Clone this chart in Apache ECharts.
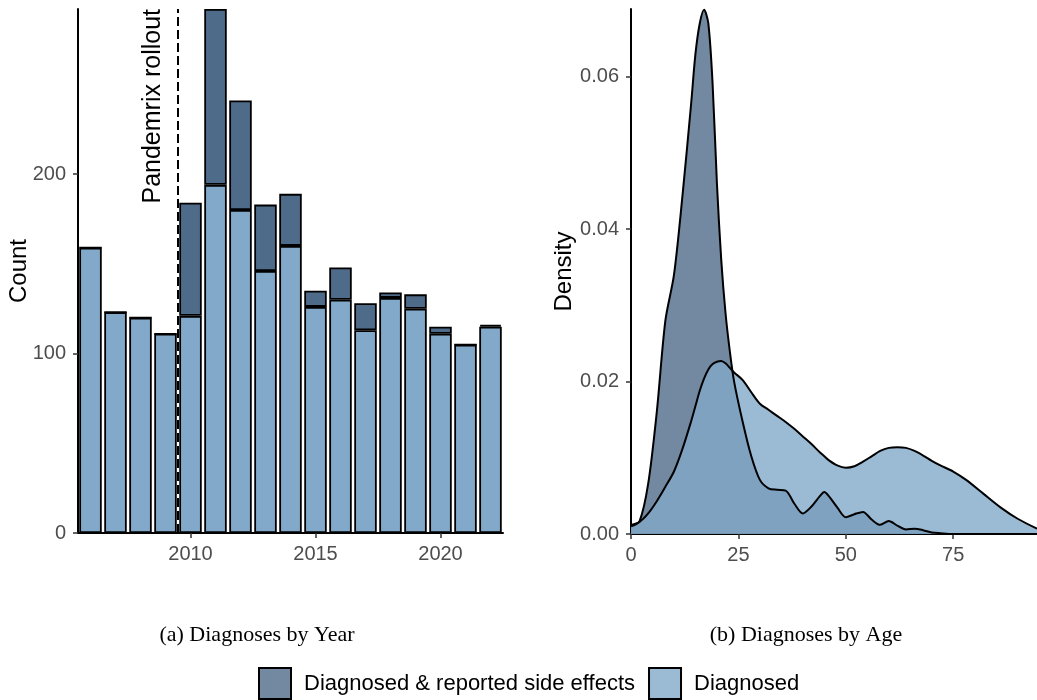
<!DOCTYPE html>
<html>
<head>
<meta charset="utf-8">
<script src="https://cdn.jsdelivr.net/npm/echarts@6/dist/echarts.min.js"></script>
<style>
  html, body { margin: 0; padding: 0; background: #fff; }
  #chart { width: 1037px; height: 700px; }
</style>
</head>
<body>
<div id="chart"></div>
<script>
// yearly counts (a)
const years = ['2006', '2007', '2008', '2009', '2010', '2011', '2012', '2013', '2014', '2015', '2016', '2017', '2018', '2019', '2020', '2021', '2022']
const diagnosedCounts = [159, 123, 120, 111, 121, 194, 180, 146, 160, 126, 130, 113, 131, 125, 111, 105, 115]
const sideEffectCounts = [0, 0, 0, 0, 63, 98, 61, 37, 29, 9, 18, 15, 3, 8, 4, 0, 1]
const rolloutYear = 2009.5

// age densities (b)
const ages = [0, 2, 4, 6, 8, 10, 12, 14, 15, 16, 17, 18, 19, 20, 21, 22, 23, 24, 26, 28, 30, 32, 34, 36, 38, 40,
  42, 44, 45, 46, 48, 50, 52, 54, 56, 58, 60, 62, 64, 66, 68, 70, 72, 75, 78, 82, 86, 90, 94.5]
const sideEffectDensity = [0.0010, 0.0017, 0.0066, 0.0160, 0.0280, 0.0340, 0.0445, 0.0565, 0.0630, 0.0670, 0.0688,
  0.0670, 0.0590, 0.0460, 0.0360, 0.0290, 0.0240, 0.0200, 0.0147, 0.0102, 0.0071, 0.0060, 0.0058, 0.0057, 0.0040,
  0.0027, 0.0036, 0.0050, 0.0055, 0.0050, 0.0035, 0.0022, 0.0026, 0.0029, 0.0019, 0.0012, 0.0017, 0.0011, 0.0006,
  0.0007, 0.0005, 0.0002, 0.0001, 0, 0, 0, 0, 0, 0]
const diagnosedDensity = [0.0012, 0.0016, 0.0027, 0.0043, 0.0062, 0.0082, 0.0112, 0.0148, 0.0168, 0.0188, 0.0204,
  0.0216, 0.0223, 0.0226, 0.0227, 0.0224, 0.0218, 0.0212, 0.0202, 0.0186, 0.0171, 0.0163, 0.0155, 0.0147, 0.0138,
  0.0128, 0.0118, 0.0107, 0.0102, 0.0097, 0.0090, 0.0087, 0.0089, 0.0095, 0.0102, 0.0109, 0.0113, 0.0114, 0.0113,
  0.0109, 0.0103, 0.0096, 0.0090, 0.0082, 0.0071, 0.0053, 0.0035, 0.0020, 0.0007]

const yearTicks = ['2010', '2015', '2020']
const countTicks = [0, 100, 200]
const ageTicks = [0, 25, 50, 75]
const densityTicks = [0, 0.02, 0.04, 0.06]

const SIDE = 'Diagnosed & reported side effects'
const DIAG = 'Diagnosed'
const darkBlue = '#4f6b8a'
const lightBlue = '#82a9c9'
const sans = 'Liberation Sans, Arial, sans-serif'
const serif = 'Liberation Serif, Times New Roman, serif'

const pairs = (xs, ys) => xs.map((x, i) => [x, ys[i]])

const axisCommon = {
  axisLine: { show: true, lineStyle: { color: '#000', width: 2 } },
  axisTick: { show: true, length: 5, lineStyle: { color: '#333', width: 1.5 } },
  axisLabel: { color: '#4d4d4d', fontSize: 20, fontFamily: sans, margin: 11 },
  splitLine: { show: false }
}
const nameStyle = { fontSize: 24, fontFamily: sans, color: '#000' }
const showYear = (i, v) => yearTicks.includes(v)

const chart = echarts.init(document.getElementById('chart'))
chart.setOption({
  animation: false,
  backgroundColor: '#fff',
  title: [
    { text: '(a) Diagnoses by Year', left: 252, top: 619, textAlign: 'center',
      textStyle: { fontFamily: serif, fontSize: 22, fontWeight: 'normal', color: '#000' } },
    { text: '(b) Diagnoses by Age', left: 801, top: 619, textAlign: 'center',
      textStyle: { fontFamily: serif, fontSize: 22, fontWeight: 'normal', color: '#000' } }
  ],
  legend: {
    left: 258, top: 667, padding: 0,
    itemWidth: 32, itemHeight: 31, itemGap: 13,
    icon: 'rect',
    selectedMode: false,
    textStyle: { fontSize: 22, fontFamily: sans, color: '#000', padding: [0, 0, 0, 8] },
    data: [
      { name: SIDE, itemStyle: { color: 'rgba(79,107,138,0.8)', borderColor: '#000', borderWidth: 2 } },
      { name: DIAG, itemStyle: { color: 'rgba(130,169,201,0.8)', borderColor: '#000', borderWidth: 2 } }
    ]
  },
  grid: [
    { left: 78, top: 9, width: 425, height: 524 },
    { left: 631, top: 9, width: 406, height: 525 }
  ],
  xAxis: [
    { ...axisCommon, type: 'category', gridIndex: 0, data: years,
      axisTick: { ...axisCommon.axisTick, alignWithLabel: true, interval: showYear },
      axisLabel: { ...axisCommon.axisLabel, interval: showYear } },
    { ...axisCommon, type: 'value', gridIndex: 1, min: 0, max: 94.5,
      axisTick: { ...axisCommon.axisTick, customValues: ageTicks },
      axisLabel: { ...axisCommon.axisLabel, customValues: ageTicks } },
    // hidden continuous year axis, only used to place the rollout line between bands
    { type: 'value', gridIndex: 0, min: 2005.5, max: 2022.5, show: false }
  ],
  yAxis: [
    { ...axisCommon, type: 'value', gridIndex: 0, min: 0, max: 292,
      name: 'Count', nameLocation: 'middle', nameGap: 47, nameMoveOverlap: false, nameTextStyle: nameStyle,
      axisTick: { ...axisCommon.axisTick, customValues: countTicks },
      axisLabel: { ...axisCommon.axisLabel, margin: 12, customValues: countTicks } },
    { ...axisCommon, type: 'value', gridIndex: 1, min: 0, max: 0.0689,
      name: 'Density', nameLocation: 'middle', nameGap: 55, nameMoveOverlap: false, nameTextStyle: nameStyle,
      axisTick: { ...axisCommon.axisTick, customValues: densityTicks },
      axisLabel: { ...axisCommon.axisLabel, margin: 12, customValues: densityTicks, formatter: v => v.toFixed(2) } }
  ],
  series: [
    {
      type: 'line', xAxisIndex: 2, yAxisIndex: 0, data: [], z: 1,
      markLine: {
        silent: true, symbol: 'none',
        lineStyle: { color: '#000', type: [9, 4], width: 2 },
        label: { show: true, formatter: 'Pandemrix rollout', position: 'insideEndTop',
          fontSize: 25, fontFamily: sans, color: '#000', distance: [0, 12] },
        data: [{ xAxis: rolloutYear }]
      }
    },
    {
      name: DIAG, type: 'bar', xAxisIndex: 0, yAxisIndex: 0, stack: 'year',
      barWidth: '90%',
      data: diagnosedCounts,
      itemStyle: { color: lightBlue, borderColor: '#000', borderWidth: 1.8 }
    },
    {
      name: SIDE, type: 'bar', xAxisIndex: 0, yAxisIndex: 0, stack: 'year',
      barWidth: '90%',
      data: sideEffectCounts,
      itemStyle: { color: darkBlue, borderColor: '#000', borderWidth: 1.8 }
    },
    {
      name: SIDE, type: 'line', xAxisIndex: 1, yAxisIndex: 1,
      data: pairs(ages, sideEffectDensity),
      smooth: 0.3, showSymbol: false,
      lineStyle: { color: '#000', width: 2 },
      itemStyle: { color: darkBlue },
      areaStyle: { color: darkBlue, opacity: 0.8 }
    },
    {
      name: DIAG, type: 'line', xAxisIndex: 1, yAxisIndex: 1,
      data: pairs(ages, diagnosedDensity),
      smooth: 0.3, showSymbol: false,
      lineStyle: { color: '#000', width: 2 },
      itemStyle: { color: lightBlue },
      areaStyle: { color: lightBlue, opacity: 0.8 }
    }
  ]
})
</script>
</body>
</html>
